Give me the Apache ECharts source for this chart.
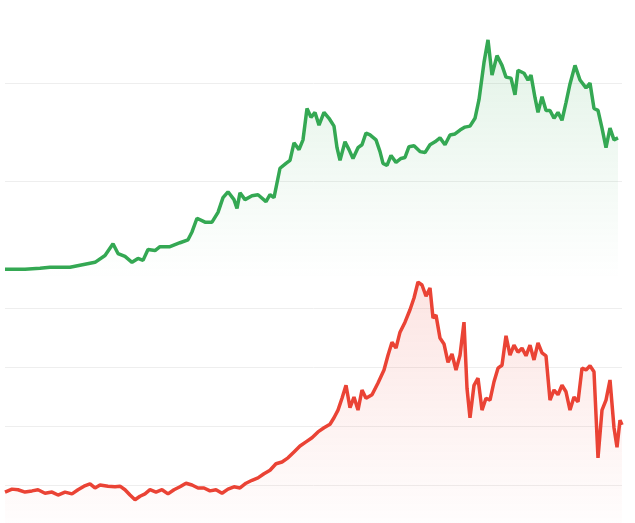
<!DOCTYPE html>
<html>
<head>
<meta charset="utf-8">
<script src="https://cdn.jsdelivr.net/npm/echarts@6/dist/echarts.min.js"></script>
<style>html,body{margin:0;padding:0;background:#fff}#chart{width:635px;height:523px}</style>
</head>
<body>
<div id="chart"></div>
<script>
// upper series (green): day index and value
var greenDays = [5,15,25,40,50,70,80,95,105,113,118,125,132,138,143,148,155,160,170,180,188,192,197,205,212,218,223,228,234,237,240,245,252,258,266,270,274,280,286,290,294,299,303,307,311,315,319,324,329,334,337,340,345,349,353,358,362,366,370,376,380,383,387,391,396,401,405,409,414,420,425,430,435,440,445,450,455,460,465,470,475,479,484,488,492,497,502,506,511,515,518,524,528,531,535,538,542,546,550,554,558,562,566,570,575,580,586,590,594,598,602,606,610,614,618];
var greenVals = [10,10,10,11,12,12,14,17,24,36,26,23,17,21,19,30,29,33,33,37,40,48,62,58,58,68,83,89,81,72,88,81,85,86,79,86,83,113,118,121,139,132,142,174,165,170,157,170,164,156,134,121,140,132,123,134,137,149,147,142,130,118,116,126,119,123,124,135,136,130,129,137,140,144,137,147,148,152,155,156,164,183,221,244,208,228,218,206,205,188,213,210,203,208,185,170,186,172,172,164,170,162,180,199,218,203,195,200,174,172,154,134,154,142,144];

// lower series (red)
var redDays = [5,12,18,25,32,38,45,52,58,65,72,78,84,90,95,100,108,115,120,125,130,135,140,145,150,156,162,168,174,180,186,192,198,204,210,216,222,228,234,240,246,252,258,264,270,276,282,288,294,300,306,312,318,324,330,334,338,342,346,350,354,358,362,366,372,378,384,388,392,396,400,405,410,414,418,422,426,430,433,436,440,444,448,452,456,460,464,467,470,474,478,482,486,490,494,498,502,506,510,514,518,522,526,530,534,538,542,546,550,554,558,562,566,570,574,578,582,586,590,594,598,602,606,610,614,617,620,622];
var redVals = [88,93,92,88,90,92,86,88,83,88,85,92,98,102,95,100,98,97,98,92,83,75,81,85,92,88,92,85,92,97,103,100,95,95,90,92,86,93,97,95,103,108,112,119,125,136,139,146,156,166,173,180,190,197,203,214,227,247,269,231,249,227,261,247,253,273,295,320,342,332,359,376,397,417,444,439,420,434,383,388,349,339,308,322,295,320,376,264,214,269,281,227,247,244,275,298,303,353,320,337,325,332,319,337,312,341,324,319,244,261,253,269,258,227,249,241,298,295,302,292,146,227,244,278,197,164,210,202];

function pairs(xs, ys) { return xs.map(function (x, i) { return [x, ys[i]]; }); }

function grad(c) {
    return new echarts.graphic.LinearGradient(0, 0, 0, 1, [
        {offset: 0, color: c + '33'}, {offset: 1, color: c + '00'}
    ]);
}

var split = {show: true, lineStyle: {color: ['transparent', '#eeeeee', '#eeeeee', '#eeeeee', '#eeeeee', 'transparent'], width: 1}};
var chart = echarts.init(document.getElementById('chart'));
chart.setOption({
    animation: false,
    grid: [
        {left: 5, right: 13, top: -15, height: 294, outerBoundsMode: 'none', containLabel: false},
        {left: 5, right: 13, top: 249, height: 295, outerBoundsMode: 'none', containLabel: false}
    ],
    xAxis: [
        {type: 'value', gridIndex: 0, min: 5, max: 622, show: false},
        {type: 'value', gridIndex: 1, min: 5, max: 622, show: false}
    ],
    yAxis: [
        {type: 'value', gridIndex: 0, min: 0, max: 300, interval: 100, axisLine: {show: false}, axisTick: {show: false}, axisLabel: {show: false}, splitLine: split},
        {type: 'value', gridIndex: 1, min: 0, max: 500, interval: 100, axisLine: {show: false}, axisTick: {show: false}, axisLabel: {show: false}, splitLine: split}
    ],
    series: [
        {type: 'line', xAxisIndex: 0, yAxisIndex: 0, data: pairs(greenDays, greenVals), showSymbol: false,
            lineStyle: {color: '#34a853', width: 3.5}, areaStyle: {color: grad('#34a853')}},
        {type: 'line', xAxisIndex: 1, yAxisIndex: 1, data: pairs(redDays, redVals), showSymbol: false,
            lineStyle: {color: '#ea4335', width: 3.5}, areaStyle: {color: grad('#ea4335')}}
    ]
});
</script>
</body>
</html>
